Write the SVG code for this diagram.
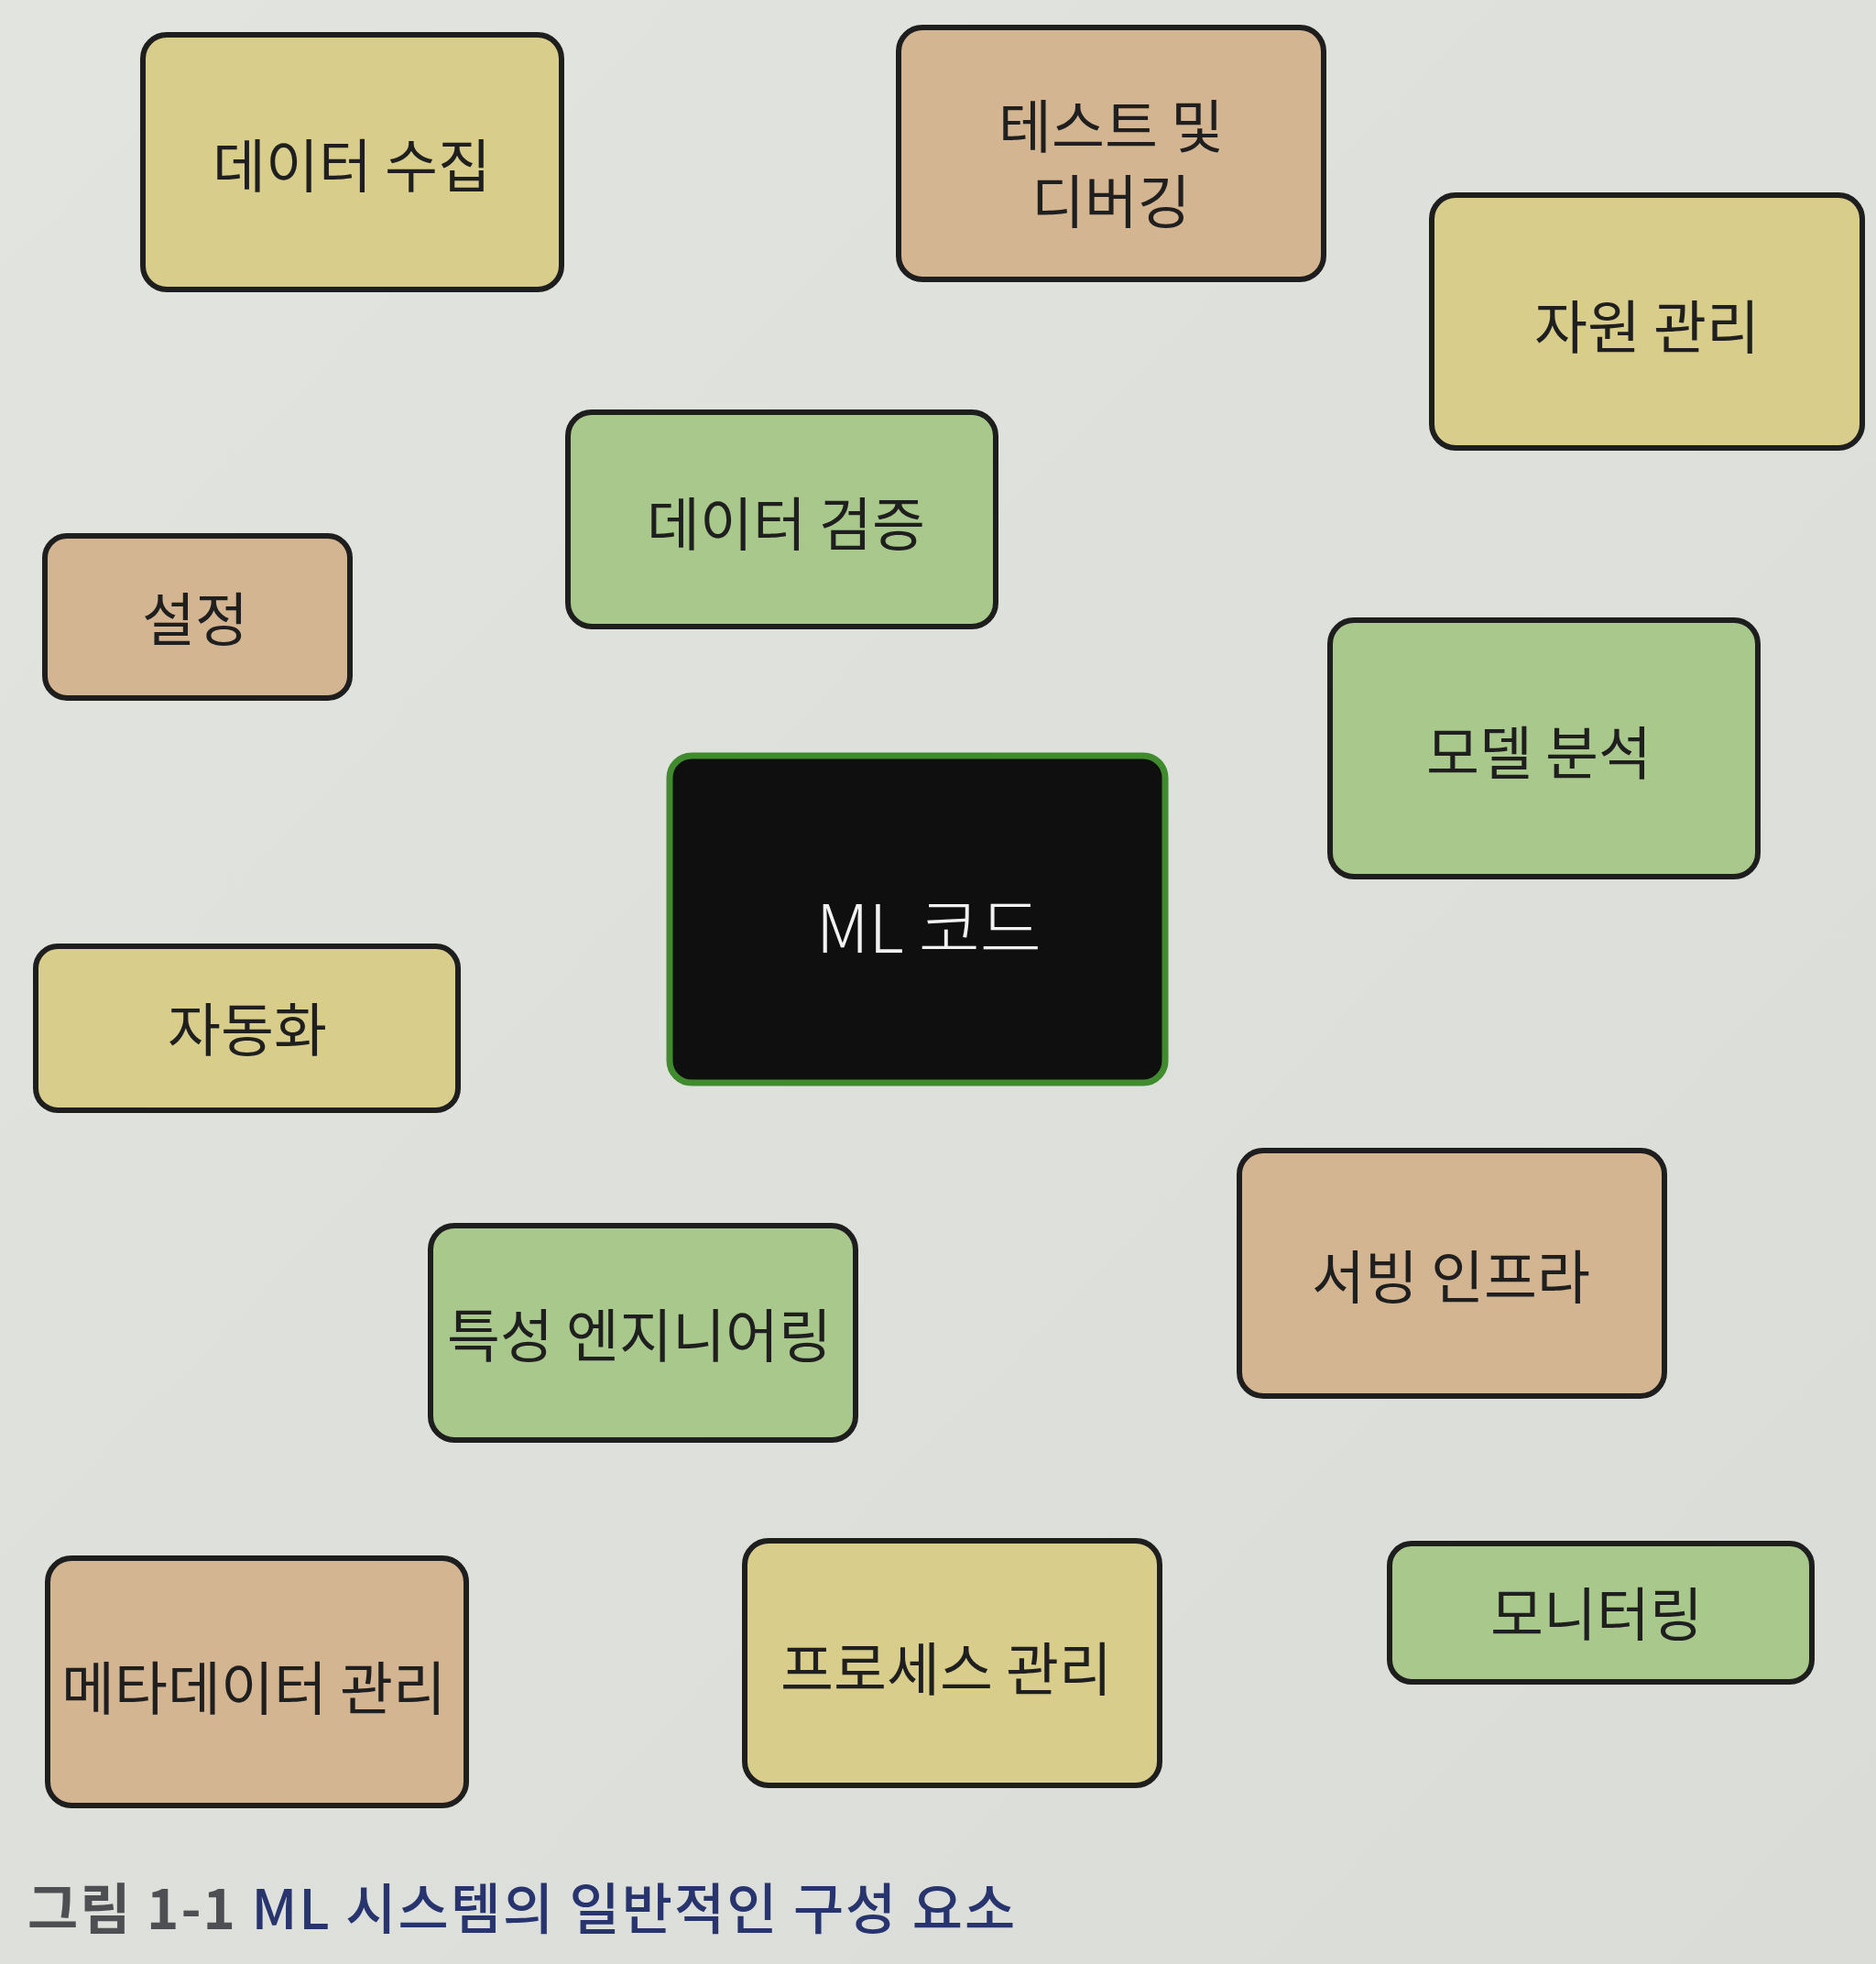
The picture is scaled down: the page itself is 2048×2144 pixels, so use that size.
<svg xmlns="http://www.w3.org/2000/svg" width="2048" height="2144" viewBox="0 0 2048 2144">
  <defs>
    <linearGradient id="bg" x1="0" y1="0" x2="1" y2="1">
      <stop offset="0" stop-color="#e2e4e0"/>
      <stop offset="1" stop-color="#d9dcd7"/>
    </linearGradient>
    <style>
      .box { stroke: #1e1e1e; stroke-width: 6; }
      .yellow { fill: #d8cd8a; }
      .tan { fill: #d4b591; }
      .green { fill: #a9c88b; }
      .core { fill: #0f0f0f; stroke: #3f8b2e; stroke-width: 7; }
      .lbl { font-family: "Noto Sans CJK KR", "Noto Sans", sans-serif; font-size: 63px; fill: #1f1f1f; text-anchor: middle; dominant-baseline: central; }
      .lbl-core { font-family: "Noto Sans CJK KR", "Noto Sans", sans-serif; font-size: 73px; font-weight: 300; fill: #f2f2f2; text-anchor: middle; dominant-baseline: central; }
      .cap { font-family: "Noto Sans CJK KR", "Noto Sans", sans-serif; font-size: 60px; letter-spacing: 2px; }
    </style>
  </defs>
  <rect x="0" y="0" width="2048" height="2144" fill="url(#bg)"/>

  <g id="connectors"/>

  <g id="n-data-collection">
    <rect class="box yellow" x="156" y="38" width="457" height="278" rx="26"/>
    <text class="lbl" x="384" y="176">데이터 수집</text>
  </g>
  <g id="n-testing">
    <rect class="box tan" x="981" y="30" width="464" height="275" rx="26"/>
    <text class="lbl" x="1213" y="133">테스트 및</text>
    <text class="lbl" x="1213" y="215">디버깅</text>
  </g>
  <g id="n-resource">
    <rect class="box yellow" x="1563" y="213" width="470" height="276" rx="26"/>
    <text class="lbl" x="1798" y="352">자원 관리</text>
  </g>
  <g id="n-data-validation">
    <rect class="box green" x="620" y="450" width="467" height="234" rx="26"/>
    <text class="lbl" x="858" y="567">데이터 검증</text>
  </g>
  <g id="n-config">
    <rect class="box tan" x="49" y="585" width="333" height="177" rx="24"/>
    <text class="lbl" x="213" y="671">설정</text>
  </g>
  <g id="n-model-analysis">
    <rect class="box green" x="1452" y="677" width="467" height="280" rx="26"/>
    <text class="lbl" x="1680" y="817">모델 분석</text>
  </g>
  <g id="n-ml-code">
    <rect class="core" x="731" y="825" width="541" height="357" rx="24"/>
    <text class="lbl-core" x="1014" y="1008">ML 코드</text>
  </g>
  <g id="n-automation">
    <rect class="box yellow" x="39" y="1033" width="461" height="179" rx="24"/>
    <text class="lbl" x="270" y="1119">자동화</text>
  </g>
  <g id="n-feature-eng">
    <rect class="box green" x="470" y="1338" width="464" height="234" rx="26"/>
    <text class="lbl" x="698" y="1453">특성 엔지니어링</text>
  </g>
  <g id="n-serving">
    <rect class="box tan" x="1353" y="1256" width="464" height="268" rx="26"/>
    <text class="lbl" x="1584" y="1389">서빙 인프라</text>
  </g>
  <g id="n-metadata">
    <rect class="box tan" x="52" y="1701" width="457" height="270" rx="26"/>
    <text class="lbl" x="277" y="1838">메타데이터 관리</text>
  </g>
  <g id="n-process">
    <rect class="box yellow" x="813" y="1682" width="453" height="267" rx="26"/>
    <text class="lbl" x="1033" y="1817">프로세스 관리</text>
  </g>
  <g id="n-monitoring">
    <rect class="box green" x="1517" y="1685" width="461" height="151" rx="24"/>
    <text class="lbl" x="1743" y="1757">모니터링</text>
  </g>

  <g id="caption">
    <text class="cap" x="30" y="2106"><tspan font-weight="700" fill="#4d4f52">그림 1-1</tspan><tspan fill="#27346e" font-weight="500"> ML 시스템의 일반적인 구성 요소</tspan></text>
  </g>
</svg>
